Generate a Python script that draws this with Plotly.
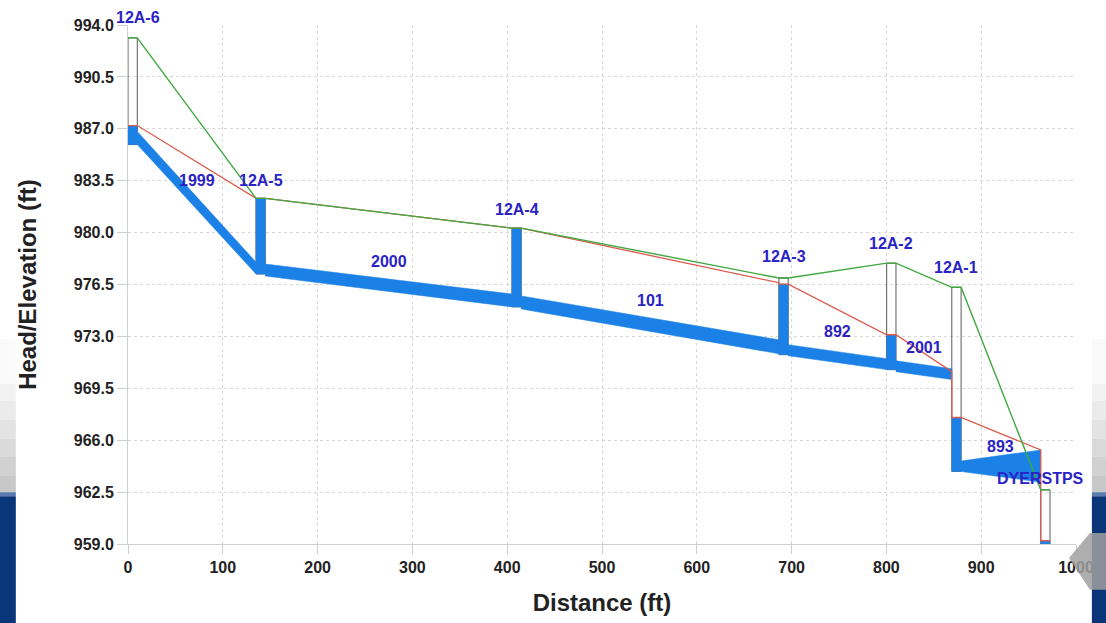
import plotly.graph_objects as go

# ---------------- data ----------------
node_names = ["12A-6", "12A-5", "12A-4", "12A-3", "12A-2", "12A-1", "DYERSTPS"]
node_station = [0.0, 135.0, 405.0, 686.6, 800.3, 869.0, 962.8]
node_rim = [993.13, 982.31, 980.30, 976.94, 977.94, 976.31, 962.65]
node_invert = [985.94, 977.21, 974.99, 971.77, 970.76, 963.90, 958.51]
node_water = [987.22, 982.31, 980.30, 976.53, 973.11, 967.53, 959.22]

link_names = ["1999", "2000", "101", "892", "2001", "893"]
link_up_invert = [985.94, 977.07, 974.85, 971.70, 970.62, 963.89]
link_up_crown = [986.81, 977.88, 975.73, 972.44, 971.36, 964.60]
link_dn_invert = [977.21, 974.99, 971.83, 970.76, 970.09, 963.17]
link_dn_crown = [978.01, 975.86, 972.77, 971.50, 970.82, 965.34]
link_hgl_up = [987.22, 982.31, 980.30, 976.53, 973.11, 967.53]
link_hgl_dn = [982.31, 980.30, 976.62, 973.11, 970.62, 965.34]

x_ticks = [0, 100, 200, 300, 400, 500, 600, 700, 800, 900, 1000]
y_ticks = [959.0, 962.5, 966.0, 969.5, 973.0, 976.5, 980.0, 983.5, 987.0, 990.5, 994.0]

# ---------------- style ----------------
BOX_W = 9.8
BLUE = "#1b81e6"
RED = "#dc5a4e"
GREEN = "#3fa83f"
OUTLINE = "#5a5a5a"
LABEL = "#2b22c4"
FONT = "Arial, Liberation Sans, sans-serif"
node_label_shift = [(5.5, 20), (0, 18), (0, 19), (0, 21), (0, 20), (0, 20), (-4.7, 11)]
link_label_shift = [16.5, 18, 17, 20, 17, 9]

fig = go.Figure()
n = len(node_names)

# manhole outlines
for i in range(n):
    xl = node_station[i]
    xr = xl + BOX_W
    fig.add_trace(go.Scatter(
        x=[xl, xr, xr, xl, xl],
        y=[node_invert[i], node_invert[i], node_rim[i], node_rim[i], node_invert[i]],
        mode="lines", line=dict(color=OUTLINE, width=1),
        hoverinfo="skip", showlegend=False))

# pipes (full -> filled blue)
for j in range(len(link_names)):
    xu = node_station[j] + BOX_W
    xd = node_station[j + 1]
    fig.add_trace(go.Scatter(
        x=[xu, xu, xd, xd, xu],
        y=[link_up_invert[j], link_up_crown[j], link_dn_crown[j], link_dn_invert[j], link_up_invert[j]],
        mode="lines", fill="toself", fillcolor=BLUE,
        line=dict(color=BLUE, width=0.5),
        hoverinfo="skip", showlegend=False))

# water in manholes
for i in range(n):
    xl = node_station[i]
    xr = xl + BOX_W
    fig.add_trace(go.Scatter(
        x=[xl, xr, xr, xl, xl],
        y=[node_invert[i], node_invert[i], node_water[i], node_water[i], node_invert[i]],
        mode="lines", fill="toself", fillcolor=BLUE,
        line=dict(color=BLUE, width=0.5),
        hoverinfo="skip", showlegend=False))

# hydraulic grade line
hx, hy = [], []
for i in range(n):
    xl = node_station[i]
    xr = xl + BOX_W
    if i > 0:
        hx.append(xl); hy.append(link_hgl_dn[i - 1])
    hx += [xl, xr]; hy += [node_water[i], node_water[i]]
    if i < n - 1:
        hx.append(xr); hy.append(link_hgl_up[i])
fig.add_trace(go.Scatter(x=hx, y=hy, mode="lines", line=dict(color=RED, width=1.3),
                         hoverinfo="skip", showlegend=False))

# ground line (rims)
gx, gy = [], []
for i in range(n):
    xl = node_station[i]
    gx += [xl, xl + BOX_W]; gy += [node_rim[i], node_rim[i]]
fig.add_trace(go.Scatter(x=gx, y=gy, mode="lines", line=dict(color=GREEN, width=1.4),
                         hoverinfo="skip", showlegend=False))

# labels
annots = []
for i in range(n):
    dx, dy = node_label_shift[i]
    annots.append(dict(x=node_station[i] + BOX_W / 2, y=node_rim[i], text=node_names[i],
                       showarrow=False, xanchor="center", yanchor="middle",
                       xshift=dx, yshift=dy,
                       font=dict(family=FONT, size=16, color=LABEL, weight="bold")))
for j in range(len(link_names)):
    xm = (node_station[j] + BOX_W + node_station[j + 1]) / 2
    ym = (link_up_crown[j] + link_dn_crown[j]) / 2
    annots.append(dict(x=xm, y=ym, text=link_names[j], showarrow=False,
                       xanchor="center", yanchor="middle", yshift=link_label_shift[j],
                       font=dict(family=FONT, size=16, color=LABEL, weight="bold")))

# slide decorations (paper coords)
def px2paper(px, py):
    return (px - 128) / 955.0, (546 - py) / 521.0

shapes = []
def rect(x0, y0, x1, y1, color, layer="below"):
    a, b = px2paper(x0, y0)
    c, d = px2paper(x1, y1)
    shapes.append(dict(type="rect", xref="paper", yref="paper", x0=a, y0=b, x1=c, y1=d,
                       fillcolor=color, line=dict(width=0), layer=layer))

grey_bands = [(340, 385, "#fafafa"), (385, 402, "#f2f2f2"), (402, 421, "#ebebeb"),
              (421, 440, "#e3e3e3"), (440, 458, "#dadada"), (458, 477, "#d1d1d1"),
              (477, 494, "#c8c8c8")]
for (y0, y1, c) in grey_bands:
    rect(-8, y0, 15, y1, c)
    rect(1099, y0, 1115, y1, c)
rect(-8, 494, 15, 498, "#5a7cae")
rect(1099, 494, 1115, 498, "#5a7cae")
rect(-8, 498, 15, 632, "#0b3579")
rect(1099, 498, 1115, 632, "#0b3579")

# navigation button (bottom right)
pts = [(1076, 560), (1097, 535), (1115, 535), (1115, 592), (1097, 592)]
pp = [px2paper(a, b) for a, b in pts]
path = "M " + " L ".join(f"{a},{b}" for a, b in pp) + " Z"
shapes.append(dict(type="path", xref="paper", yref="paper", path=path,
                   fillcolor="rgba(160,160,160,0.85)", line=dict(width=0), layer="above"))

axis_font = dict(family=FONT, size=16, color="#222222", weight="bold")
fig.update_layout(
    autosize=True,
    margin=dict(l=128, r=17, t=25, b=72),
    paper_bgcolor="white", plot_bgcolor="white",
    shapes=shapes, annotations=annots,
    xaxis=dict(range=[0, 1000], tickvals=x_ticks, ticktext=[str(v) for v in x_ticks],
               showgrid=True, gridcolor="#d8d8d8", griddash="dot", gridwidth=1,
               showline=True, linecolor="#cfcfcf", linewidth=1, zeroline=False,
               ticks="outside", ticklen=9, tickcolor="#cfcfcf",
               tickfont=axis_font, ticklabeloverflow="allow",
               title=dict(text="Distance (ft)", standoff=18,
                          font=dict(family=FONT, size=24, color="#222222", weight="bold"))),
    yaxis=dict(range=[959, 994], tickvals=y_ticks, ticktext=[f"{v:.1f}" for v in y_ticks],
               showgrid=True, gridcolor="#d8d8d8", griddash="dot", gridwidth=1,
               showline=True, linecolor="#cfcfcf", linewidth=1, zeroline=False,
               ticks="outside", ticklen=10, tickcolor="#cfcfcf",
               tickfont=axis_font,
               title=dict(text="Head/Elevation (ft)", standoff=30,
                          font=dict(family=FONT, size=24, color="#222222", weight="bold"))),
)

fig.write_html(
    "out.html",
    config={"displayModeBar": False, "responsive": True},
    default_width="100vw",
    default_height="100vh",
    post_script="document.body.style.margin='0';document.body.style.overflow='hidden';"
                "window.dispatchEvent(new Event('resize'));",
)
